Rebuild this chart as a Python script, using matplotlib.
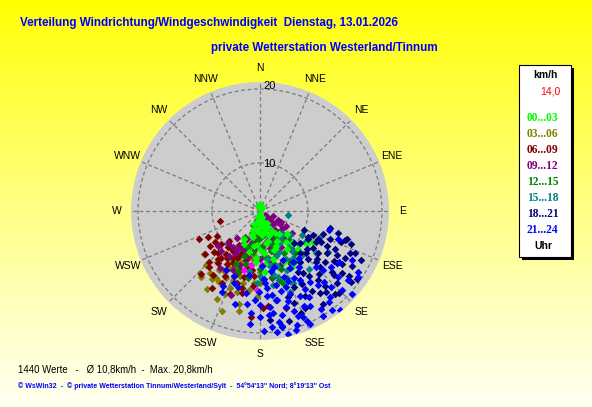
import numpy as np
import matplotlib
matplotlib.use("Agg")
import matplotlib.pyplot as plt
from matplotlib.patches import Rectangle

plt.rcParams['font.family'] = ['Liberation Sans', 'DejaVu Sans']

# Windrichtung (Grad) und Windgeschwindigkeit (km/h), je Zeitgruppe
dir_00_03 = [350, 15, 180, 200, 160, 175, 190, 170, 185, 160, 200, 150, 175, 195, 140, 165, 185, 210, 130, 155,
             175, 195, 145, 165, 185, 135, 155, 125, 175, 150, 140, 170, 180, 205, 150, 160, 120,
             170, 180, 190, 165, 175, 185, 155, 195, 160, 200, 145, 170, 180, 150, 190, 135, 205, 160, 175, 185,
             0, 340, 30]
spd_00_03 = [1.5, 1.8, 1.2, 2.0, 2.2, 3.0, 3.5, 4.2, 4.8, 5.0, 5.2, 5.8, 6.0, 6.5, 7.0, 7.2, 7.8, 7.5, 8.0, 8.5,
             9.0, 9.2, 9.8, 10.2, 10.5, 10.8, 11.2, 11.5, 12.0, 12.5, 8.8, 5.5, 3.8, 4.0, 4.0, 13.5, 12.0,
             2.8, 2.5, 3.0, 3.5, 4.5, 5.5, 4.8, 5.0, 6.2, 6.0, 6.5, 7.5, 8.5, 7.8, 8.0, 9.5, 8.2, 9.0, 10.8, 9.8,
             2.3, 2.0, 1.5]

dir_03_06 = [232, 219, 215, 210, 212, 209, 201, 201, 197, 203, 193, 193, 201, 185, 182, 188, 213, 193, 191, 185,
             195, 175, 205, 190, 170, 200, 180, 165, 215, 189, 224,
             225, 220, 212, 205, 198, 207, 215, 222, 203, 196, 210, 218, 190, 186, 200, 228, 214, 206, 192, 180]
spd_03_06 = [13.3, 14.6, 15.1, 14.9, 13.1, 12.5, 15.0, 14.0, 13.0, 11.6, 13.8, 16.6, 18.1, 13.6, 15.4, 14.6, 14.6,
             14.5, 11.8, 6.0, 7.5, 8.5, 9.0, 10.0, 10.5, 11.0, 12.0, 7.0, 10.0, 14.9, 15.5,
             14.2, 12.8, 11.5, 12.2, 12.8, 14.0, 13.5, 15.8, 16.0, 15.2, 10.8, 11.2, 12.5, 9.5, 9.8, 12.0, 16.5,
             17.0, 17.5, 13.5]

dir_06_09 = [256, 243, 222, 225, 221, 223, 212, 185, 207, 206, 199, 193, 194, 185, 178, 210, 199, 219, 219, 208,
             193, 207, 195, 205, 215, 200, 190, 210, 220, 185, 230, 225, 212, 198, 235, 165, 175,
             240, 236, 228, 232, 218, 214, 204, 196, 188, 202, 226, 212, 208, 216, 222, 200, 192, 245, 205, 210]
spd_06_09 = [9.0, 11.5, 10.0, 11.7, 12.3, 15.5, 16.1, 18.1, 11.6, 10.7, 12.2, 11.4, 12.9, 14.0, 16.9, 9.2, 8.8,
             9.7, 12.8, 13.8, 14.5, 10.5, 9.5, 10.5, 11.5, 12.5, 11.0, 13.0, 12.0, 12.5, 10.5, 13.5, 8.8, 14.0,
             12.0, 17.3, 16.6,
             10.2, 11.0, 12.0, 13.2, 11.0, 10.0, 9.8, 10.4, 11.8, 13.2, 9.2, 12.2, 14.8, 14.5, 14.0, 15.8, 15.2,
             12.8, 8.5, 11.0]

dir_09_12 = [130, 131, 137, 122, 122, 132, 116, 125, 145, 160, 175, 200, 200, 205, 208, 211, 211, 199, 190, 180,
             165, 150, 140, 170, 195, 185, 155, 220, 215, 160, 120, 110, 140, 225, 180, 190, 150, 170,
             128, 135, 142, 150, 158, 165, 172, 180, 188, 195, 202, 210, 217, 224, 140, 160, 180, 200, 118, 130,
             205, 215, 230]
spd_09_12 = [2.2, 3.3, 4.1, 5.2, 5.9, 4.4, 5.3, 8.5, 6.0, 4.5, 5.5, 3.0, 5.9, 7.3, 8.5, 9.6, 9.0, 15.8, 7.0, 8.0,
             8.5, 9.0, 10.0, 10.5, 10.0, 6.5, 7.0, 8.0, 11.0, 11.5, 7.0, 4.0, 3.0, 9.5, 3.0, 4.5, 12.0, 13.0,
             3.8, 5.0, 6.0, 5.5, 6.5, 7.0, 7.5, 6.5, 8.5, 7.8, 9.0, 10.0, 9.5, 11.2, 8.0, 9.5, 10.0, 11.5, 6.0,
             6.8, 12.5, 13.2, 11.0]

dir_12_15 = [205, 200, 141, 170, 185, 160, 175, 150, 190, 165, 180, 195, 155, 145, 170, 185, 160, 135, 200, 210,
             175, 150, 165, 140, 190,
             145, 155, 165, 175, 185, 195, 150, 160, 170, 180, 190, 200, 140, 130, 205, 178, 162]
spd_12_15 = [4.3, 12.3, 8.2, 6.0, 7.0, 8.0, 9.5, 10.0, 9.0, 11.0, 11.5, 8.0, 6.5, 12.0, 12.8, 4.0, 3.5, 9.0, 10.0,
             7.0, 5.0, 7.5, 13.5, 11.0, 13.0,
             7.0, 8.5, 9.0, 8.0, 10.0, 11.0, 11.5, 12.0, 10.0, 6.5, 5.5, 8.5, 10.5, 8.0, 11.5, 13.0, 14.0]

dir_15_18 = [98, 121, 127, 139, 138, 150, 160, 170, 145, 155, 135, 165, 175, 180, 130, 150, 160, 185, 140, 125,
             165, 155, 175, 190, 145, 170,
             128, 133, 142, 148, 152, 158, 163, 168, 172, 178, 182, 135, 145, 155, 120, 115, 150, 160, 170]
spd_15_18 = [6.8, 14.5, 13.3, 9.6, 7.0, 8.5, 10.0, 11.0, 11.5, 12.5, 12.0, 7.5, 9.0, 12.5, 10.5, 5.5, 6.5, 10.0,
             14.0, 11.0, 13.0, 9.5, 6.0, 12.0, 7.8, 14.0,
             8.5, 9.5, 10.5, 12.0, 11.0, 13.5, 11.5, 12.5, 10.0, 11.0, 13.5, 7.5, 13.0, 14.5, 10.0, 12.5, 15.0,
             15.5, 16.0]

dir_18_21 = [108, 115, 125, 119, 124, 133, 119, 129, 132, 145, 147, 155, 144, 138, 175, 116, 109, 129, 112, 122,
             128, 135, 140, 126, 118, 113, 131, 136, 150, 142, 160, 165, 121, 127, 110, 134, 148, 156, 104, 117,
             106, 111, 114, 118, 120, 123, 126, 130, 133, 137, 141, 146, 152, 158, 162, 114, 120, 125, 130, 136,
             143, 110, 116, 124, 132, 139, 117, 128]
spd_18_21 = [16.1, 17.2, 19.5, 16.9, 16.4, 14.9, 12.4, 11.8, 12.1, 14.0, 16.6, 18.1, 17.5, 18.7, 18.4, 12.4, 16.0,
             10.5, 14.0, 14.5, 15.0, 13.0, 16.0, 13.5, 11.0, 10.0, 17.0, 19.0, 15.2, 12.5, 17.0, 19.0, 18.2, 17.6,
             12.8, 9.8, 13.5, 15.0, 13.5, 15.2,
             14.8, 15.5, 17.8, 14.0, 15.8, 17.0, 18.5, 16.5, 18.0, 15.5, 17.8, 18.8, 16.8, 18.5, 16.0, 11.5, 11.2,
             12.5, 13.8, 11.5, 14.8, 16.8, 18.8, 15.8, 14.0, 17.2, 13.0, 19.2]

dir_21_24 = [105, 122, 141, 158, 169, 161, 138, 150, 152, 161, 150, 141, 134, 206, 205, 177, 174, 174, 181, 175,
             175, 169, 173, 169, 157, 124, 130, 145, 155, 165, 160, 170, 180, 185, 190, 145, 135, 128, 148, 163,
             166, 178, 155, 140, 190, 200, 152, 144, 132, 118, 110, 185, 195, 170, 160, 168,
             150, 155, 160, 165, 170, 175, 180, 158, 163, 168, 172, 176, 147, 153, 142, 137, 143, 149, 156, 162,
             167, 172, 178, 183, 188, 196, 202, 210, 128, 123, 133]
spd_21_24 = [13.5, 19.2, 20.7, 19.0, 19.4, 18.0, 16.7, 14.6, 12.4, 14.6, 17.1, 18.6, 19.0, 15.1, 15.9, 13.0, 16.8,
             19.3, 14.7, 15.4, 14.2, 16.1, 17.6, 19.5, 19.7, 19.6, 17.5, 15.5, 16.5, 17.2, 13.2, 12.0, 16.5, 17.5,
             15.0, 13.0, 14.5, 16.0, 19.2, 20.3, 11.5, 11.0, 11.0, 12.0, 12.5, 14.2, 18.2, 20.0, 20.2, 17.8, 15.0,
             19.0, 16.8, 18.8, 15.8, 14.0,
             16.0, 17.8, 18.8, 15.0, 16.0, 17.8, 18.0, 14.0, 16.5, 18.0, 20.0, 13.5, 12.0, 14.0, 16.5, 17.8, 19.0,
             20.0, 20.2, 19.8, 20.5, 15.2, 19.8, 15.8, 16.5, 14.5, 13.2, 13.0, 18.8, 16.5, 15.5]

dir_extra = [189, 178, 182, 195]
spd_extra = [11.0, 10.9, 14.5, 12.0]

groups = [
    ("00...03", "#00FF00", dir_00_03, spd_00_03),
    ("03...06", "#808000", dir_03_06, spd_03_06),
    ("06...09", "#800000", dir_06_09, spd_06_09),
    ("09...12", "#800080", dir_09_12, spd_09_12),
    ("12...15", "#008000", dir_12_15, spd_12_15),
    ("15...18", "#008080", dir_15_18, spd_15_18),
    ("18...21", "#000080", dir_18_21, spd_18_21),
    ("21...24", "#0000FF", dir_21_24, spd_21_24),
]
# Zeichenreihenfolge: gruen (00-03) liegt im Bild ueber dem Kern, unter 18-24
draw_z = [3.55, 3.1, 3.2, 3.3, 3.4, 3.5, 3.6, 3.7]

compass = ["N", "NNE", "NE", "ENE", "E", "ESE", "SE", "SSE",
           "S", "SSW", "SW", "WSW", "W", "WNW", "NW", "NNW"]
ring_values = [2.6, 10, 20]
r_max = 20.85

W, H = 592, 407
fig = plt.figure(figsize=(W / 100, H / 100), dpi=100)

def fx(x):
    return x / W

def fy(y):
    return 1 - y / H

# Hintergrund: gelber Verlauf
bg = fig.add_axes([0, 0, 1, 1], zorder=-10)
grad = np.linspace(0, 1, 256)[:, None]
img = np.ones((256, 2, 3))
img[..., 2] = 0.95 * grad ** 0.9
bg.imshow(img, aspect="auto", extent=[0, 1, 0, 1], origin="upper")
bg.axis("off")

# Polardiagramm
cx, cy, rad = 260, 211, 129
ax = fig.add_axes([fx(cx - rad), fy(cy + rad), 2 * rad / W, 2 * rad / H], projection="polar")
ax.set_facecolor("#CDCDCD")
ax.set_theta_zero_location("N")
ax.set_theta_direction(-1)

P = 1.345
ax.set_rscale("function", functions=(lambda r: np.power(np.clip(r, 0, None), P),
                                     lambda r: np.power(np.clip(r, 0, None), 1 / P)))
ax.set_rlim(0, r_max)
ax.set_xticks(np.deg2rad(np.arange(0, 360, 22.5)))
ax.set_xticklabels([])
ax.set_yticks(ring_values)
ax.set_yticklabels([])
ax.grid(True, color="#7A7A7A", linestyle=(0, (3, 2.2)), linewidth=0.9)
ax.spines["polar"].set_visible(False)
ax.tick_params(length=0)

for (label, color, d, s), z in zip(groups, draw_z):
    ax.scatter(np.deg2rad(d), s, marker="D", s=15, color=color, linewidths=0, zorder=z)
ax.scatter(np.deg2rad(dir_extra), spd_extra, marker="D", s=15, color="#FF00FF", linewidths=0, zorder=3.58)

for v in [10, 20]:
    ax.annotate(str(v), xy=(0, v), xytext=(2.5, 2 if v == 20 else -1), textcoords="offset points",
                ha="left", va="center", fontsize=8, color="black", zorder=4)

for i, name in enumerate(compass):
    a = np.deg2rad(i * 22.5)
    rr = 143 / (2 * rad)
    ax.text(0.5 + rr * np.sin(a), 0.5 + rr * np.cos(a), name, transform=ax.transAxes,
            ha="center", va="center", fontsize=7.5, color="black")

# Titel
blue = "#0000FF"
fig.text(fx(20), fy(23), "Verteilung Windrichtung/Windgeschwindigkeit  Dienstag, 13.01.2026",
         ha="left", va="center", fontsize=8.4, fontweight="bold", color=blue)
fig.text(fx(211), fy(48), "private Wetterstation Westerland/Tinnum",
         ha="left", va="center", fontsize=8.4, fontweight="bold", color=blue)

# Legendenkasten
fig.add_artist(Rectangle((fx(522), fy(260)), 52 / W, 192 / H, transform=fig.transFigure,
                         facecolor="black", edgecolor="none"))
fig.add_artist(Rectangle((fx(519), fy(257)), 52 / W, 192 / H, transform=fig.transFigure,
                         facecolor="white", edgecolor="black", linewidth=0.8))
fig.text(fx(545), fy(75.5), "km/h", ha="center", va="center", fontsize=7.5, fontweight="bold")
fig.text(fx(560), fy(92), "14,0", ha="right", va="center", fontsize=7.5, color="#FF0000")
y0 = 118.3
for k, (label, color, d, s) in enumerate(groups):
    fig.text(fx(542.5), fy(y0 + k * 15.93), label, ha="center", va="center",
             fontsize=8.3, fontweight="bold", color=color, family="Liberation Serif")
fig.text(fx(543.5), fy(245.7), "Uhr", ha="center", va="center", fontsize=7.5, fontweight="bold")

# Fusszeilen
fig.text(fx(18), fy(369), "1440 Werte   -   \u00d8 10,8km/h  -  Max. 20,8km/h",
         ha="left", va="center", fontsize=6.9, color="black")
fig.text(fx(18), fy(386), "\u00a9 WsWin32  -  \u00a9 private Wetterstation Tinnum/Westerland/Sylt  -  "
         "54\u00b054'13'' Nord; 8\u00b019'13'' Ost",
         ha="left", va="center", fontsize=5.0, fontweight="bold", color=blue)

fig.savefig("out.png", dpi=100)
